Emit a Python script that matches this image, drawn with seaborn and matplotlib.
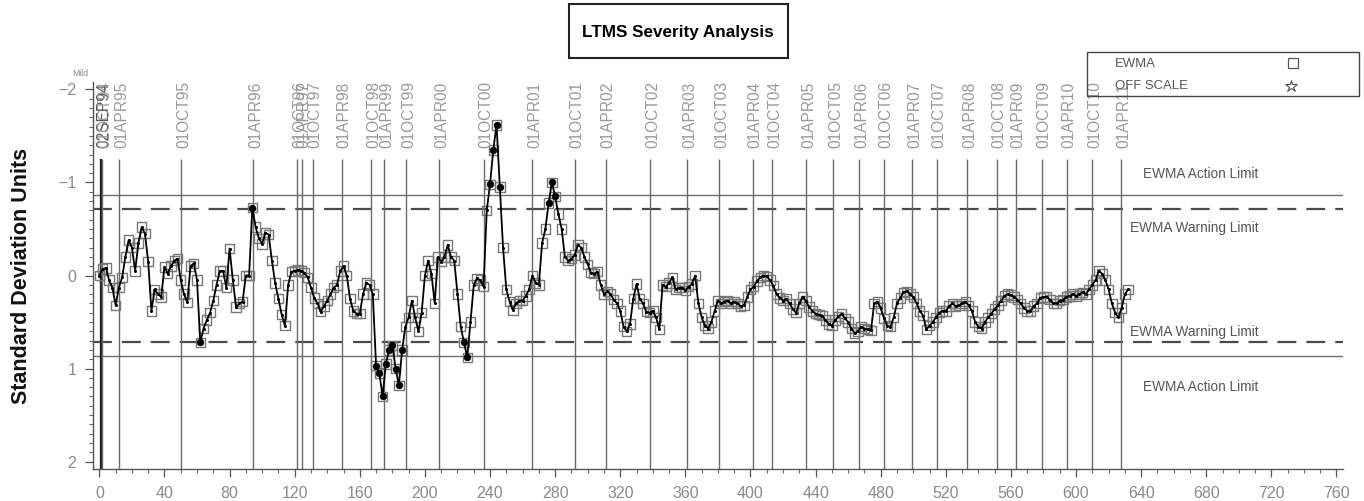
import numpy as np
import pandas as pd
import matplotlib
matplotlib.use("Agg")
import matplotlib.pyplot as plt
from matplotlib import font_manager
from matplotlib.patches import Rectangle
from matplotlib.lines import Line2D
from matplotlib.ticker import MultipleLocator
import seaborn as sns

# ---------------------------------------------------------------- data
# EWMA severity, one value every second test (test 0, 2, 4, ...)
ewma = [
    0.00, -0.07, -0.08, 0.05, 0.13, 0.32, 0.13, 0.02, -0.20, -0.38,
    -0.30, -0.05, -0.35, -0.52, -0.45, -0.15, 0.38, 0.15, 0.20, 0.23,
    -0.09, -0.02, -0.10, -0.16, -0.18, 0.05, 0.20, 0.29, -0.10, -0.13,
    0.05, 0.72, 0.57, 0.48, 0.40, 0.27, 0.10, -0.05, -0.05, 0.13,
    -0.29, 0.05, 0.34, 0.30, 0.28, 0.00, 0.00, -0.73, -0.52, -0.40,
    -0.34, -0.46, -0.44, -0.16, 0.08, 0.25, 0.42, 0.54, 0.10, -0.04,
    -0.05, -0.06, -0.05, -0.03, 0.02, 0.13, 0.24, 0.30, 0.39, 0.33,
    0.27, 0.20, 0.13, 0.10, -0.05, -0.10, 0.00, 0.25, 0.38, 0.41,
    0.41, 0.20, 0.08, 0.10, 0.20, 0.97, 1.05, 1.30, 0.95, 0.80,
    0.75, 1.00, 1.18, 0.80, 0.55, 0.45, 0.27, 0.45, 0.60, 0.40,
    0.00, -0.16, -0.02, 0.30, -0.20, -0.15, -0.20, -0.33, -0.20, -0.16,
    0.20, 0.55, 0.72, 0.88, 0.50, 0.10, 0.03, 0.05, 0.12, -0.70,
    -0.98, -1.35, -1.62, -0.95, -0.30, 0.15, 0.28, 0.37, 0.30, 0.27,
    0.27, 0.22, 0.15, 0.00, 0.08, 0.10, -0.35, -0.50, -0.78, -1.00,
    -0.85, -0.66, -0.50, -0.20, -0.16, -0.18, -0.22, -0.33, -0.30, -0.20,
    -0.12, -0.03, -0.02, -0.04, 0.10, 0.20, 0.17, 0.20, 0.26, 0.30,
    0.38, 0.55, 0.60, 0.52, 0.25, 0.09, 0.25, 0.30, 0.39, 0.40,
    0.38, 0.45, 0.58, 0.10, 0.12, 0.08, 0.02, 0.15, 0.13, 0.13,
    0.16, 0.12, 0.09, 0.00, 0.30, 0.45, 0.54, 0.57, 0.50, 0.38,
    0.27, 0.30, 0.28, 0.27, 0.30, 0.28, 0.30, 0.33, 0.32, 0.23,
    0.15, 0.12, 0.06, 0.02, 0.00, 0.01, 0.05, 0.11, 0.20, 0.24,
    0.27, 0.25, 0.30, 0.36, 0.40, 0.30, 0.23, 0.27, 0.34, 0.38,
    0.41, 0.42, 0.43, 0.48, 0.52, 0.54, 0.48, 0.44, 0.41, 0.46,
    0.50, 0.57, 0.62, 0.60, 0.55, 0.57, 0.58, 0.59, 0.30, 0.28,
    0.35, 0.46, 0.54, 0.55, 0.45, 0.30, 0.24, 0.18, 0.17, 0.20,
    0.23, 0.30, 0.38, 0.43, 0.58, 0.54, 0.50, 0.45, 0.40, 0.38,
    0.38, 0.33, 0.30, 0.33, 0.32, 0.30, 0.28, 0.32, 0.38, 0.50,
    0.55, 0.57, 0.50, 0.45, 0.41, 0.36, 0.32, 0.27, 0.22, 0.20,
    0.21, 0.23, 0.26, 0.30, 0.35, 0.38, 0.38, 0.33, 0.30, 0.24,
    0.23, 0.23, 0.26, 0.30, 0.30, 0.27, 0.26, 0.23, 0.22, 0.20,
    0.22, 0.20, 0.18, 0.20, 0.15, 0.10, 0.05, -0.05, -0.02, 0.05,
    0.15, 0.30, 0.40, 0.45, 0.35, 0.20, 0.15,
]
test_step = 2

# calendar markers (label, test number)
date_labels = [
    "02SEP94", "01OCT94", "01APR95", "01OCT95", "01APR96", "01OCT96",
    "01APR97", "01OCT97", "01APR98", "01OCT98", "01APR99", "01OCT99",
    "01APR00", "01OCT00", "01APR01", "01OCT01", "01APR02", "01OCT02",
    "01APR03", "01OCT03", "01APR04", "01OCT04", "01APR05", "01OCT05",
    "01APR06", "01OCT06", "01APR07", "01OCT07", "01APR08", "01OCT08",
    "01APR09", "01OCT09", "01APR10", "01OCT10", "01APR11",
]
date_tests = [
    1.0, 1.6, 12.3, 50.4, 94.6, 121.4,
    124.4, 131.0, 149.0, 167.0, 175.0, 188.5,
    208.8, 236.2, 266.0, 292.0, 311.0, 338.4,
    361.0, 380.8, 401.4, 413.4, 434.2, 451.0,
    466.8, 481.9, 499.3, 514.3, 533.0, 551.4,
    563.0, 579.0, 594.4, 609.8, 627.8,
]

action_limit = 0.866
warning_limit = 0.715

x_ticks = list(range(0, 761, 40))
y_ticks = [-2, -1, 0, 1, 2]

# ---------------------------------------------------------------- fonts
sns.set_theme(style="white")
available = {f.name for f in font_manager.fontManager.ttflist}
plain = "Liberation Sans" if "Liberation Sans" in available else "DejaVu Sans"
if "Liberation Sans Narrow" in available:
    narrow, narrow_scale = "Liberation Sans Narrow", 1.0
else:
    narrow, narrow_scale = plain, 0.82
plt.rcParams["font.family"] = [plain, "DejaVu Sans"]

grey_text = "#8a8a8a"

# ---------------------------------------------------------------- figure
fig = plt.figure(figsize=(13.64, 5.01), dpi=100)
ax = fig.add_axes([93 / 1364, 1 - 469 / 501, 1250 / 1364, 387 / 501])

df = pd.DataFrame({"test": np.arange(len(ewma)) * test_step, "ewma": ewma})
outside = df[df["ewma"].abs() > warning_limit]

# control limits
ax.axhline(-action_limit, color="#6e6e6e", lw=1.0, zorder=1)
ax.axhline(action_limit, color="#6e6e6e", lw=1.0, zorder=1)
ax.axhline(-warning_limit, color="#4a4a4a", lw=1.6, ls=(0, (8.5, 4.5)), zorder=1)
ax.axhline(warning_limit, color="#4a4a4a", lw=1.6, ls=(0, (8.5, 4.5)), zorder=1)

# calendar reference lines and their labels (first one drawn heavier)
ax.vlines(date_tests[:1], -1.255, 2.08, colors="#222222", lw=1.7, zorder=1)
ax.vlines(date_tests[1:], -1.255, 2.08, colors="#6a6a6a", lw=1.0, zorder=1)
for i, (lab, t) in enumerate(zip(date_labels, date_tests)):
    ax.text(t + 1.5, -1.37, lab, rotation=90, ha="center", va="bottom",
            fontsize=11.2, color="#555555" if i == 0 else "#999999",
            clip_on=False, family=[plain, "DejaVu Sans"])

# EWMA series: open squares, connecting line, filled points beyond warning
sns.scatterplot(data=df, x="test", y="ewma", ax=ax, marker="s", s=46,
                linewidth=1.0, zorder=2, legend=False)
sq = ax.collections[-1]
sq.set_facecolor("none")
sq.set_edgecolor("#777777")
sns.lineplot(data=df, x="test", y="ewma", ax=ax, color="black", lw=1.3,
             marker="o", markersize=2.2, markeredgewidth=0, zorder=3,
             legend=False)
sns.scatterplot(data=outside, x="test", y="ewma", ax=ax, color="black",
                s=24, marker="o", edgecolor="black", zorder=4, legend=False)

# limit captions
cap_kw = dict(fontsize=12 * narrow_scale, color="#555555", family=[narrow, "DejaVu Sans"],
              va="center", ha="left")
ax.text(641, -1.09, "EWMA Action Limit", **cap_kw)
ax.text(633, -0.515, "EWMA Warning Limit", **cap_kw)
ax.text(633, 0.61, "EWMA Warning Limit", **cap_kw)
ax.text(641, 1.20, "EWMA Action Limit", **cap_kw)

# axes
ax.set_xlim(-3.9, 764)
ax.set_ylim(2.08, -2.08)
ax.set_xticks(x_ticks)
ax.set_yticks(y_ticks)
ax.xaxis.set_minor_locator(MultipleLocator(10))
ax.yaxis.set_minor_locator(MultipleLocator(0.1))
ax.tick_params(axis="both", which="major", direction="out", length=6,
               width=0.9, color="#555555", labelcolor=grey_text, labelsize=11.5,
               bottom=True, left=True)
ax.tick_params(axis="both", which="minor", direction="out", length=3,
               width=0.8, color="#666666", bottom=True, left=True)
ax.tick_params(axis="x", pad=6)
ax.tick_params(axis="y", pad=6)
ax.grid(False)
sns.despine(ax=ax)
for side in ("left", "bottom"):
    ax.spines[side].set_color("#555555")
    ax.spines[side].set_linewidth(1.0)

ax.set_xlabel("")
ax.set_ylabel("Standard Deviation Units", fontsize=15.5, fontweight="bold",
              color="#111111")
ax.yaxis.set_label_coords(-0.049, 0.50)

fig.text(72 / 1364, 1 - 73 / 501, "Mild", fontsize=7 * narrow_scale + 0.5,
         color=grey_text, family=[narrow, "DejaVu Sans"], ha="left", va="center")

# title box
fig.add_artist(Rectangle((569 / 1364, 1 - 58 / 501), 219 / 1364, 54 / 501,
                         transform=fig.transFigure, fill=False,
                         edgecolor="#222222", lw=1.5))
fig.text(678 / 1364, 1 - 32 / 501, "LTMS Severity Analysis",
         fontsize=15 * narrow_scale, fontweight="bold", color="black",
         family=[narrow, "DejaVu Sans"], ha="center", va="center")

# legend box
fig.add_artist(Rectangle((1087 / 1364, 1 - 96 / 501), 272 / 1364, 44 / 501,
                         transform=fig.transFigure, fill=False,
                         edgecolor="#444444", lw=1.0))
leg_kw = dict(fontsize=11.5 * narrow_scale, color="#555555",
              family=[narrow, "DejaVu Sans"], ha="left", va="center")
fig.text(1115 / 1364, 1 - 64 / 501, "EWMA", **leg_kw)
fig.text(1115 / 1364, 1 - 86 / 501, "OFF SCALE", **leg_kw)
fig.add_artist(Line2D([1293 / 1364], [1 - 63 / 501], transform=fig.transFigure,
                      marker="s", markersize=6.5, markerfacecolor="none",
                      markeredgecolor="#555555", markeredgewidth=0.9, ls="none"))
fig.add_artist(Line2D([1291 / 1364], [1 - 86 / 501], transform=fig.transFigure,
                      marker="*", markersize=9, markerfacecolor="none",
                      markeredgecolor="#555555", markeredgewidth=0.8, ls="none"))

fig.savefig("out.png", dpi=100)
